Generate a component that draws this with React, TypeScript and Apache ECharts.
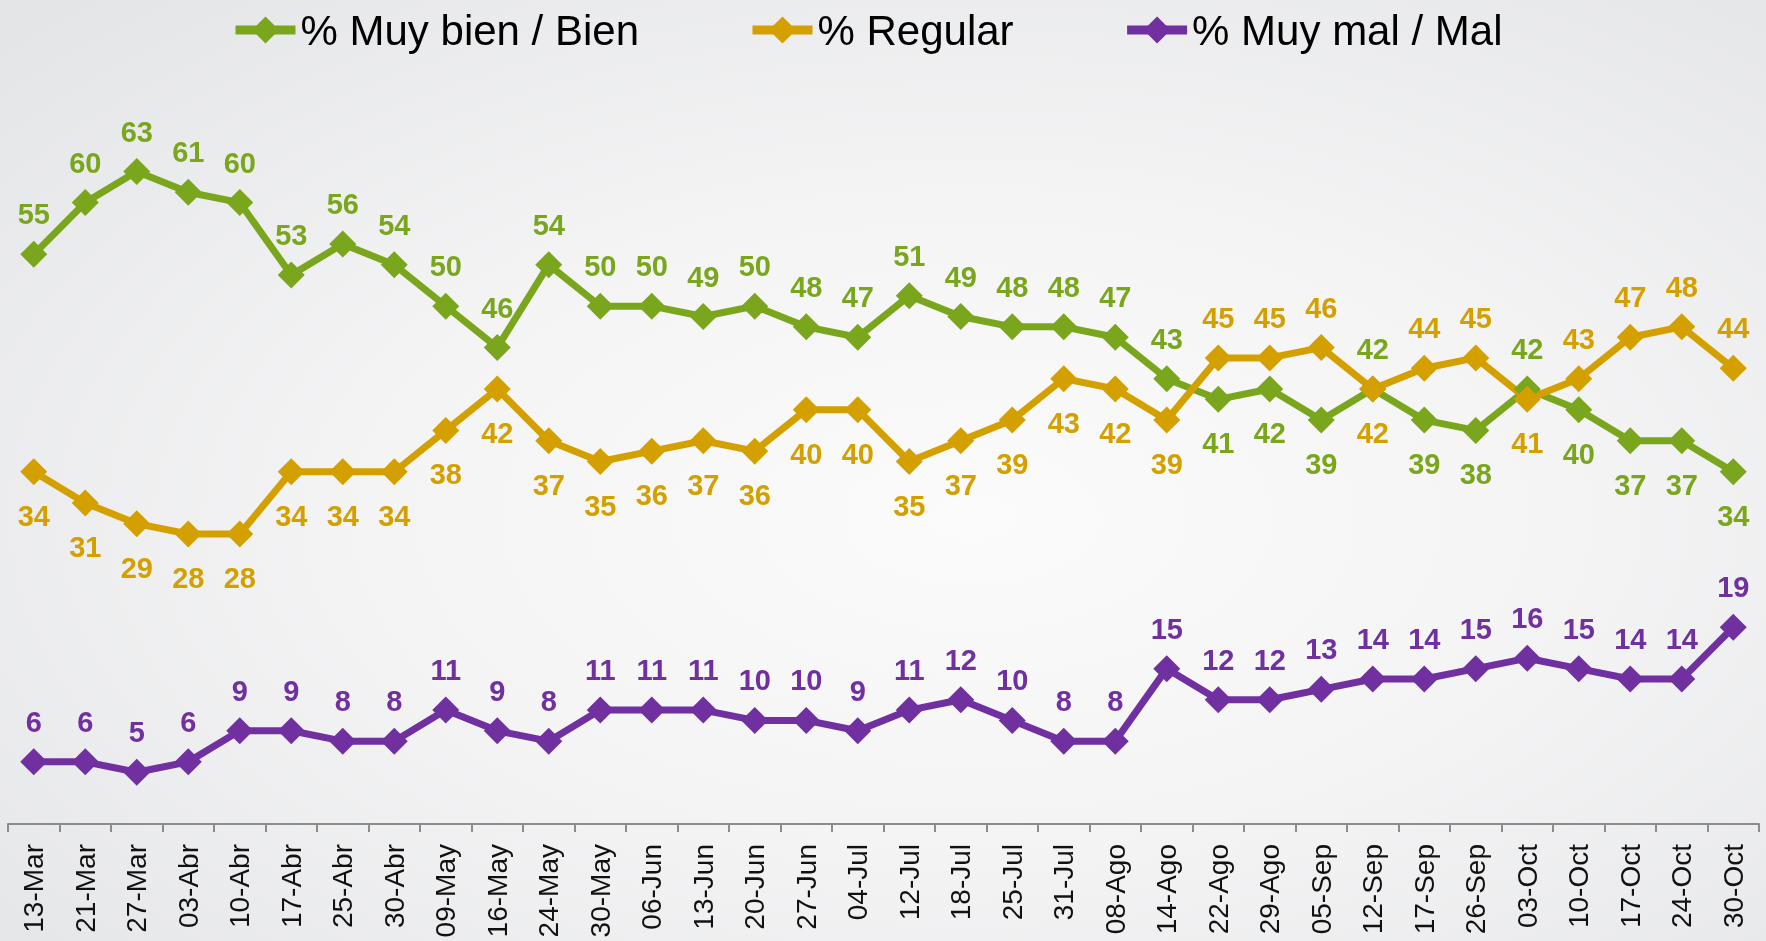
import React, { useEffect, useRef } from "react";
import * as echarts from "echarts";

const categories = [
  "13-Mar", "21-Mar", "27-Mar", "03-Abr", "10-Abr", "17-Abr", "25-Abr", "30-Abr",
  "09-May", "16-May", "24-May", "30-May", "06-Jun", "13-Jun", "20-Jun", "27-Jun",
  "04-Jul", "12-Jul", "18-Jul", "25-Jul", "31-Jul", "08-Ago", "14-Ago", "22-Ago",
  "29-Ago", "05-Sep", "12-Sep", "17-Sep", "26-Sep", "03-Oct", "10-Oct", "17-Oct",
  "24-Oct", "30-Oct",
];

const muyBien = [
  55, 60, 63, 61, 60, 53, 56, 54, 50, 46, 54, 50, 50, 49, 50, 48, 47, 51, 49, 48,
  48, 47, 43, 41, 42, 39, 42, 39, 38, 42, 40, 37, 37, 34,
];
const regular = [
  34, 31, 29, 28, 28, 34, 34, 34, 38, 42, 37, 35, 36, 37, 36, 40, 40, 35, 37, 39,
  43, 42, 39, 45, 45, 46, 42, 44, 45, 41, 43, 47, 48, 44,
];
const muyMal = [
  6, 6, 5, 6, 9, 9, 8, 8, 11, 9, 8, 11, 11, 11, 10, 10, 9, 11, 12, 10, 8, 8, 15,
  12, 12, 13, 14, 14, 15, 16, 15, 14, 14, 19,
];

// indices whose data label sits below (green) / above (orange) the marker
const muyBienLabelBelow = [23, 24, 25, 27, 28, 30, 31, 32, 33];
const regularLabelAbove = [23, 24, 25, 27, 28, 30, 31, 32, 33];

const seriesNames = ["% Muy bien / Bien", "% Regular", "% Muy mal / Mal"];
const colors = ["#7aa61e", "#d4a000", "#7030a0"];

const FONT = '"Liberation Sans", Arial, Helvetica, sans-serif';

export default function App() {
  const ref = useRef<HTMLDivElement | null>(null);

  useEffect(() => {
    if (!ref.current) return;
    const chart = echarts.init(ref.current, null, { renderer: "svg" });

    const makeData = (vals: number[], flipIdx: number[], defPos: string, flipPos: string) =>
      vals.map((v, i) => {
        const pos = flipIdx.includes(i) ? flipPos : defPos;
        return {
          value: v,
          label: { position: pos, distance: pos === "top" ? 12 : 16 },
        };
      });

    const baseSeries = (name: string, color: string, data: any[]) => ({
      name,
      type: "line",
      data,
      symbol: "diamond",
      symbolSize: 27,
      lineStyle: { color, width: 7 },
      itemStyle: { color },
      label: {
        show: true,
        color,
        fontSize: 29,
        fontWeight: "bold",
        fontFamily: FONT,
      },
      emphasis: { disabled: true },
    });

    chart.setOption({
      animation: false,
      backgroundColor: new echarts.graphic.RadialGradient(0.55, 0.55, 0.75, [
        { offset: 0, color: "#fbfbfb" },
        { offset: 0.45, color: "#f4f4f5" },
        { offset: 1, color: "#e4e5e7" },
      ]),
      color: colors,
      legend: {
        top: 4,
        left: 226,
        itemWidth: 60,
        itemHeight: 34,
        itemGap: 109,
        lineStyle: { width: 9 },
        textStyle: { fontSize: 42, color: "#000", fontFamily: FONT },
        data: seriesNames,
      },
      grid: { left: 8, right: 7, top: 99, bottom: 117, containLabel: false },
      xAxis: {
        type: "category",
        data: categories,
        boundaryGap: true,
        axisLine: { lineStyle: { color: "#8c8c8c", width: 2 } },
        axisTick: { show: true, length: 8, lineStyle: { color: "#8c8c8c", width: 2 } },
        axisLabel: {
          rotate: 90,
          interval: 0,
          fontSize: 28,
          color: "#111",
          fontFamily: FONT,
          margin: 20,
        },
      },
      yAxis: {
        type: "value",
        min: 0,
        max: 70,
        show: false,
        splitLine: { show: false },
      },
      series: [
        baseSeries(seriesNames[0], colors[0], makeData(muyBien, muyBienLabelBelow, "top", "bottom")),
        baseSeries(seriesNames[1], colors[1], makeData(regular, regularLabelAbove, "bottom", "top")),
        baseSeries(seriesNames[2], colors[2], makeData(muyMal, [], "top", "top")),
      ],
    });

    return () => chart.dispose();
  }, []);

  return (
    <div
      ref={ref}
      style={{ position: "fixed", left: 0, top: 0, width: 1766, height: 941 }}
    />
  );
}
